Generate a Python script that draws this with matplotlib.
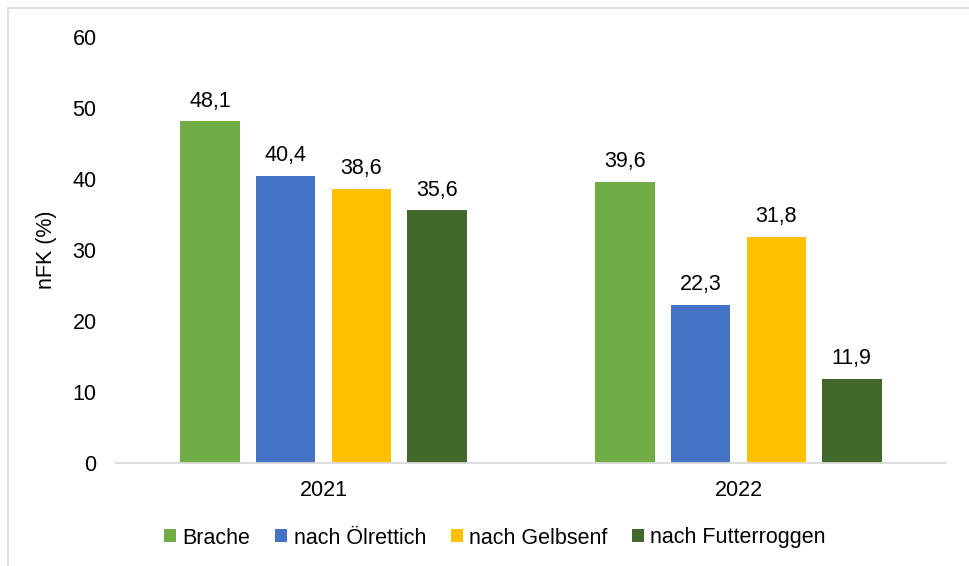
import matplotlib
matplotlib.use('Agg')
import matplotlib.pyplot as plt
import numpy as np
from matplotlib.lines import Line2D

plt.rcParams['font.family'] = ['Liberation Sans', 'DejaVu Sans']

jahre = ['2021', '2022']
varianten = ['Brache', 'nach Ölrettich', 'nach Gelbsenf', 'nach Futterroggen']
nfk = [
    [48.1, 39.6],
    [40.4, 22.3],
    [38.6, 31.8],
    [35.6, 11.9],
]
farben = ['#70AD47', '#4472C4', '#FFC000', '#43682B']

fs = 15.5

fig = plt.figure(figsize=(9.69, 5.66), dpi=100)
ax = fig.add_axes([116 / 969, 1 - 463 / 566, 830 / 969, 426 / 566])

x = np.arange(len(jahre))
breite = 0.1434
abstand = 0.182

for i, (name, werte) in enumerate(zip(varianten, nfk)):
    pos = x + (i - 1.5) * abstand
    bars = ax.bar(pos, werte, width=breite, color=farben[i], label=name, zorder=2)
    for b, w in zip(bars, werte):
        ax.annotate(f'{w:.1f}'.replace('.', ','),
                    (b.get_x() + b.get_width() / 2, w),
                    xytext=(0, 7), textcoords='offset points',
                    ha='center', va='bottom', fontsize=fs)

ax.set_xlim(-0.5, 1.5)
ax.set_ylim(0, 60)
ax.set_yticks(range(0, 61, 10))
ax.set_xticks(x)
ax.set_xticklabels(jahre)
ax.tick_params(axis='both', length=0, labelsize=fs)
ax.tick_params(axis='y', pad=14)
ax.tick_params(axis='x', pad=12)
for s in ['top', 'right', 'left']:
    ax.spines[s].set_visible(False)
ax.spines['bottom'].set_color('#D9D9D9')
ax.spines['bottom'].set_linewidth(1.3)
ax.set_ylabel('nFK (%)', fontsize=fs, labelpad=11)

leg = fig.legend(loc='center', bbox_to_anchor=(0.511, 1 - 538 / 566), ncol=4,
                 frameon=False, fontsize=fs, handlelength=0.55, handleheight=0.55,
                 handletextpad=0.3, columnspacing=1.15)

# heller Rahmen links/oben
fig.add_artist(Line2D([7.5 / 969, 7.5 / 969], [0, 1 - 8 / 566], transform=fig.transFigure,
                      color='#D9D9D9', linewidth=1.2))
fig.add_artist(Line2D([7.5 / 969, 1], [1 - 8 / 566, 1 - 8 / 566], transform=fig.transFigure,
                      color='#D9D9D9', linewidth=1.2))

fig.savefig('out.png', dpi=100)
